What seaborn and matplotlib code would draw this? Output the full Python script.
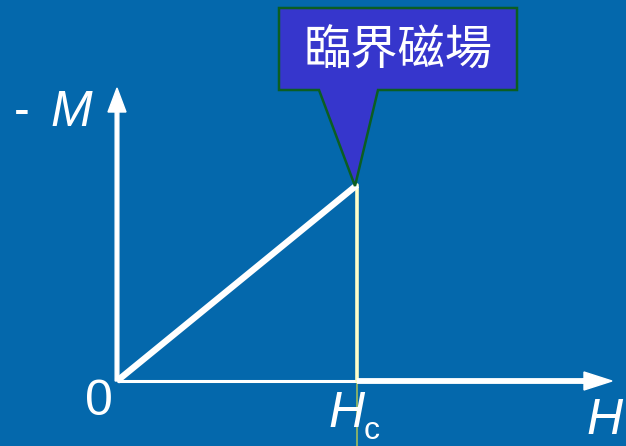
import numpy as np
import pandas as pd
import matplotlib
matplotlib.use("Agg")
import matplotlib.pyplot as plt
from matplotlib.patches import Polygon, FancyArrow
import seaborn as sns

# magnetization curve of a type I superconductor (H in units of Hc)
field_h = [0.0, 1.0]
minus_m = [0.0, 1.0]
normal_h = [1.0, 1.95]
normal_m = [0.0, 0.0]
h_c = 1.0
callout_text = "臨界磁場"

sns.set_style("white")
plt.rcParams['font.family'] = ['Liberation Sans', 'DejaVu Sans']

bg = "#0468AC"
W, H = 626, 446
x0, y0 = 117, 381       # pixel position of origin
sx, sy = 240.0, 196.0   # pixels per unit


def px(x, y):
    # pixel coords -> data coords
    return (x - x0) / sx, (y0 - y) / sy


fig = plt.figure(figsize=(6.26, 4.46), dpi=100, facecolor=bg)
ax = fig.add_axes([0, 0, 1, 1])
ax.set_facecolor(bg)
ax.set_xlim(px(0, 0)[0], px(W, 0)[0])
ax.set_ylim(px(0, H)[1], px(0, 0)[1])
ax.axis("off")

# axes of the diagram
ax.plot([0, h_c], [0, 0], color="white", lw=2.2, solid_capstyle="butt", zorder=2)
ytop = px(0, 88)[1]
ax.add_patch(FancyArrow(0, 0, 0, ytop, width=3 / sy * 1.0, head_width=18 / sx,
                        head_length=24 / sy, length_includes_head=True,
                        color="white", zorder=3))
xend = px(612, 0)[0]
ax.add_patch(FancyArrow(normal_h[-1] - 0.01, 0, xend - normal_h[-1] + 0.01, 0,
                        width=4 / sy, head_width=18 / sy, head_length=28 / sx,
                        length_includes_head=True, color="white", zorder=3))

# vertical line at Hc
ax.plot([h_c, h_c], [0, 1.0], color="#FFFFC8", lw=2.6, zorder=2)
ax.plot([h_c, h_c], [px(0, 446)[1], 0], color="#9DBB5E", lw=1.2, zorder=1)

# curve
sns.lineplot(x=field_h, y=minus_m, color="white", lw=4.6, ax=ax, zorder=4,
             solid_capstyle="butt")
sns.lineplot(x=normal_h, y=normal_m, color="white", lw=4.2, ax=ax, zorder=4,
             solid_capstyle="butt")

# callout
verts = [px(279, 8), px(517, 8), px(517, 90), px(378, 90), px(355, 186),
         px(319, 90), px(279, 90)]
ax.add_patch(Polygon(verts, closed=True, facecolor="#3636CC", edgecolor="#0B5E22",
                     lw=1.8, zorder=5))
tx, ty = px(398, 51)
ax.text(tx, ty, callout_text, color="white", fontsize=34, ha="center", va="center",
        family=['Noto Sans CJK TC', 'DejaVu Sans'], zorder=6)

# labels
ax.text(*px(14, 113), "-", color="white", fontsize=34, ha="left", va="center")
ax.text(*px(50, 113), "M", color="white", fontsize=36, style="italic",
        ha="left", va="center")
ax.text(*px(99, 402), "0", color="white", fontsize=36, ha="center", va="center")
ax.text(*px(347, 414), "H", color="white", fontsize=36, style="italic",
        ha="center", va="center")
ax.text(*px(372, 431), "c", color="white", fontsize=23, ha="center", va="center")
ax.text(*px(605, 421), "H", color="white", fontsize=36, style="italic",
        ha="center", va="center")

fig.savefig("out.png", dpi=100, facecolor=bg)
